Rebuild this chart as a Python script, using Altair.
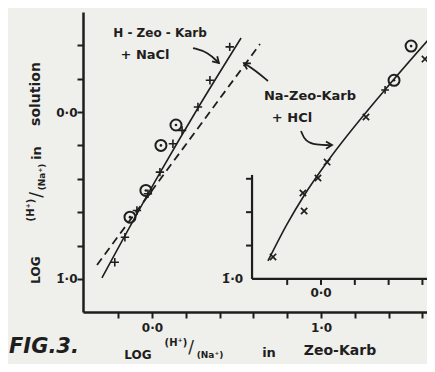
import math
import pandas as pd
import altair as alt

INK = "#1e1e1e"
PAPER = "#efefeb"
FONT = "DejaVu Sans"

# ---------------- data ----------------
# H-Zeo-Karb + NaCl, main axes
h_cross_x = [-0.22, -0.16, -0.089, -0.024, 0.047, 0.124, 0.178, 0.272, 0.343, 0.46]
h_cross_y = [-0.90, -0.75, -0.59, -0.49, -0.36, -0.19, -0.11, 0.03, 0.19, 0.39]
h_circle_x = [-0.13, -0.036, 0.053, 0.142]
h_circle_y = [-0.63, -0.47, -0.20, -0.078]
h_solid_x = [-0.296, 0.047, 0.272, 0.527]
h_solid_y = [-0.994, -0.365, 0.024, 0.443]
h_dashed_x = [-0.325, 0.639]
h_dashed_y = [-0.916, 0.407]

# Na-Zeo-Karb + HCl, inset axes (own x origin, shifted by 1.0 on the main x axis)
INSET_SHIFT = 1.0
na_cross_x = [-0.284, -0.10, -0.107, -0.018, 0.036, 0.266, 0.615]
na_cross_y = [-0.868, -0.593, -0.485, -0.395, -0.30, -0.03, 0.317]
na_plus_x = [0.379]
na_plus_y = [0.132]
na_circle_x = [0.432, 0.533]
na_circle_y = [0.19, 0.395]
na_curve_x = [-0.314, -0.2, -0.1, 0.036, 0.38, 0.633]
na_curve_y = [-0.892, -0.67, -0.50, -0.30, 0.135, 0.431]

# axes
X_DOMAIN = [-0.408, 1.627]
Y_DOMAIN = [-1.198, 0.599]
x_ticks = [-0.2, 0.0, 0.2, 0.4, 0.6, 0.8, 1.0, 1.2, 1.4, 1.6]
y_ticks = [-1.0, -0.8, -0.6, -0.4, -0.2, 0.0, 0.2, 0.4]
inset_x_ticks = [-0.2, 0.0, 0.2, 0.4, 0.6]
inset_y_ticks = [-0.8, -0.6, -0.4]
inset_x_range = [-0.408, 0.627]
inset_y_range = [-1.0, -0.377]

# annotation arrows (data coordinates)
arrow_h_x = [0.243, 0.331, 0.396]
arrow_h_y = [0.383, 0.359, 0.293]
arrow_na1_x = [0.686, 0.609, 0.544]
arrow_na1_y = [0.186, 0.251, 0.293]
arrow_na2_x = [0.882, 0.905, 0.970, 1.065]
arrow_na2_y = [-0.114, -0.174, -0.198, -0.198]

W, H = 344, 300
PXX = W / (X_DOMAIN[1] - X_DOMAIN[0])
PXY = H / (Y_DOMAIN[1] - Y_DOMAIN[0])

# ---------------- scales / axes ----------------
xs = alt.Scale(domain=X_DOMAIN, nice=False, zero=False)
ys = alt.Scale(domain=Y_DOMAIN, nice=False, zero=False)
axis_common = dict(
    title=None, grid=False, domainColor=INK, domainWidth=2.5, tickColor=INK,
    tickWidth=2, tickSize=6, labelFont=FONT, labelFontSize=12,
    labelFontWeight="bold", labelColor=INK, labelOverlap=False, labelFlush=False,
)
x_axis = alt.Axis(values=x_ticks, labelPadding=4,
                  labelExpr="datum.value == 0 ? '0·0' : (datum.value == 1 ? '1·0' : '')",
                  **axis_common)
y_axis = alt.Axis(values=y_ticks, labelPadding=0,
                  labelExpr="datum.value == 0 ? '0·0' : (datum.value == -1 ? '1̄·0' : '')",
                  **axis_common)


def X(f):
    return alt.X(f, type="quantitative", scale=xs, axis=x_axis)


def Y(f):
    return alt.Y(f, type="quantitative", scale=ys, axis=y_axis)


CROSS = "M-1,0L1,0M0,-1L0,1"
XMARK = "M-1,-1L1,1M-1,1L1,-1"
HEAD = "M-1,-0.6L0,0L-1,0.6"

layers = []

# lines
solid = pd.DataFrame({"x": h_solid_x, "y": h_solid_y})
layers.append(alt.Chart(solid).mark_line(color=INK, strokeWidth=1.6, interpolate="monotone")
              .encode(x=X("x"), y=Y("y")))
dashed = pd.DataFrame({"x": h_dashed_x, "y": h_dashed_y})
layers.append(alt.Chart(dashed).mark_line(color=INK, strokeWidth=1.8, strokeDash=[8, 5])
              .encode(x=X("x"), y=Y("y")))
curve = pd.DataFrame({"x": [v + INSET_SHIFT for v in na_curve_x], "y": na_curve_y})
layers.append(alt.Chart(curve).mark_line(color=INK, strokeWidth=1.6, interpolate="monotone")
              .encode(x=X("x"), y=Y("y")))

# markers
hc = pd.DataFrame({"x": h_cross_x, "y": h_cross_y})
layers.append(alt.Chart(hc).mark_point(shape=CROSS, size=70, filled=False, strokeWidth=1.6, color=INK, opacity=1)
              .encode(x=X("x"), y=Y("y")))
circ = pd.DataFrame({"x": h_circle_x + [v + INSET_SHIFT for v in na_circle_x],
                     "y": h_circle_y + na_circle_y})
layers.append(alt.Chart(circ).mark_point(shape="circle", size=121, filled=False, strokeWidth=2, color=INK, opacity=1)
              .encode(x=X("x"), y=Y("y")))
layers.append(alt.Chart(circ).mark_point(shape="circle", size=7, filled=True, color=INK, opacity=1)
              .encode(x=X("x"), y=Y("y")))
nx = pd.DataFrame({"x": [v + INSET_SHIFT for v in na_cross_x], "y": na_cross_y})
layers.append(alt.Chart(nx).mark_point(shape=XMARK, size=40, filled=False, strokeWidth=1.7, color=INK, opacity=1)
              .encode(x=X("x"), y=Y("y")))
npl = pd.DataFrame({"x": [v + INSET_SHIFT for v in na_plus_x], "y": na_plus_y})
layers.append(alt.Chart(npl).mark_point(shape=CROSS, size=60, filled=False, strokeWidth=1.6, color=INK, opacity=1)
              .encode(x=X("x"), y=Y("y")))

# inset axes
iv = pd.DataFrame({"x": [inset_x_range[0] + INSET_SHIFT], "y": [inset_y_range[0]], "y2": [inset_y_range[1]]})
layers.append(alt.Chart(iv).mark_rule(color=INK, strokeWidth=2.2)
              .encode(x=X("x"), y=Y("y"), y2="y2"))
ih = pd.DataFrame({"x": [inset_x_range[0] + INSET_SHIFT], "x2": [inset_x_range[1] + INSET_SHIFT], "y": [inset_y_range[0]]})
layers.append(alt.Chart(ih).mark_rule(color=INK, strokeWidth=2.2)
              .encode(x=X("x"), x2="x2", y=Y("y")))
ixt = pd.DataFrame({"x": [v + INSET_SHIFT for v in inset_x_ticks], "y": [inset_y_range[0]] * len(inset_x_ticks)})
layers.append(alt.Chart(ixt).mark_rule(color=INK, strokeWidth=2, y2Offset=6)
              .encode(x=X("x"), y=Y("y"), y2="y"))
iyt = pd.DataFrame({"x": [inset_x_range[0] + INSET_SHIFT] * len(inset_y_ticks), "y": inset_y_ticks})
layers.append(alt.Chart(iyt).mark_rule(color=INK, strokeWidth=2, x2Offset=-6)
              .encode(x=X("x"), x2="x", y=Y("y")))
ilab = pd.DataFrame({"x": [INSET_SHIFT], "y": [inset_y_range[0]], "t": ["0·0"]})
layers.append(alt.Chart(ilab).mark_text(font=FONT, fontSize=12, fontWeight="bold", color=INK, dy=14)
              .encode(x=X("x"), y=Y("y"), text="t:N"))
ilab2 = pd.DataFrame({"x": [inset_x_range[0] + INSET_SHIFT], "y": [inset_y_range[0]], "t": ["1̄·0"]})
layers.append(alt.Chart(ilab2).mark_text(font=FONT, fontSize=12, fontWeight="bold", color=INK, align="right", dx=-9)
              .encode(x=X("x"), y=Y("y"), text="t:N"))

# arrows
for ax_, ay_ in [(arrow_h_x, arrow_h_y), (arrow_na1_x, arrow_na1_y), (arrow_na2_x, arrow_na2_y)]:
    adf = pd.DataFrame({"x": ax_, "y": ay_, "i": list(range(len(ax_)))})
    layers.append(alt.Chart(adf).mark_line(color=INK, strokeWidth=1.8, interpolate="basis")
                  .encode(x=X("x"), y=Y("y"), order="i:Q"))
    dxp = (ax_[-1] - ax_[-2]) * PXX
    dyp = -(ay_[-1] - ay_[-2]) * PXY
    ang = math.degrees(math.atan2(dyp, dxp)) % 360
    hdf = pd.DataFrame({"x": [ax_[-1]], "y": [ay_[-1]]})
    layers.append(alt.Chart(hdf).mark_point(shape=HEAD, size=144, filled=False, strokeWidth=1.8,
                                            color=INK, opacity=1, angle=ang)
                  .encode(x=X("x"), y=Y("y")))


def label(text, px, py, size, angle=0, align="center", style="normal", weight="bold"):
    return (alt.Chart(pd.DataFrame({"t": [text]}))
            .mark_text(font=FONT, fontSize=size, fontWeight=weight, fontStyle=style,
                       color=INK, align=align, baseline="middle", angle=angle)
            .encode(x=alt.value(px), y=alt.value(py), text="t:N"))


# series annotations (pixel positions inside the plot)
layers += [
    label("H - Zeo - Karb", 77, 21, 12),
    label("+  NaCl", 62, 43, 13),
    label("Na-Zeo-Karb", 227, 84, 13),
    label("+  HCl", 209, 106, 13),
]
# x-axis title
layers += [
    label("LOG", 55, 343, 12),
    label("(H⁺)", 93, 331, 10),
    label("/", 108, 336, 17, weight="normal"),
    label("(Na⁺)", 127, 343, 9),
    label("in", 186, 341, 13),
    label("Zeo-Karb", 257, 339, 14),
]
# y-axis title
layers += [
    label("LOG", -47, 258, 12, angle=270),
    label("(H⁺)", -52, 198, 10, angle=270),
    label("/", -46, 183, 17, angle=270, weight="normal"),
    label("(Na⁺)", -41, 165, 9, angle=270),
    label("in", -46, 141, 13, angle=270),
    label("solution", -47, 82, 14, angle=270),
]
layers.append(label("FIG.3.", -74, 335, 21, align="left", style="italic"))

chart = (
    alt.layer(*layers)
    .properties(width=W, height=H, background=PAPER,
                autosize=alt.AutoSizeParams(type="none"),
                padding={"left": 75, "top": 4, "right": 0, "bottom": 52})
    .configure_view(stroke=None)
)

chart.save("out.html", embed_options={"renderer": "svg", "actions": False})
